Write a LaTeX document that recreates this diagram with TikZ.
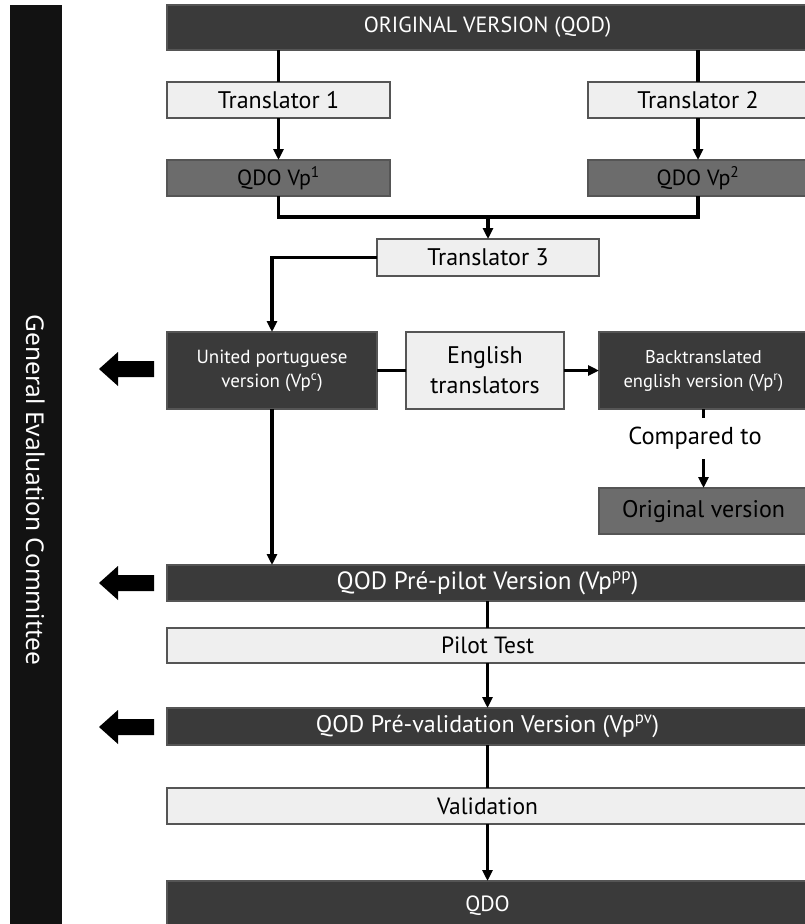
\documentclass[tikz,border=0pt]{standalone}
\usepackage{fontspec}
\setmainfont{PT Sans}
\newfontfamily\sidefont{Noto Sans}
\usetikzlibrary{arrows.meta,calc}
\definecolor{dk}{HTML}{3A3A3A}
\definecolor{md}{HTML}{6C6C6C}
\definecolor{lt}{HTML}{EFEFEF}
\definecolor{bd}{HTML}{555555}
\begin{document}
\begin{tikzpicture}[x=1pt,y=-1pt,
  bx/.style={draw=bd,line width=1.2pt,inner sep=0pt,outer sep=0pt,align=center,font=\fontsize{24}{28}\selectfont},
  dark/.style={bx,fill=dk,text=white},
  mid/.style={bx,fill=md,text=black},
  light/.style={bx,fill=lt,text=black},
  con/.style={line width=3.2pt,black},
  arr/.style={con,-{Triangle[length=11pt,width=10pt]}},
  fat/.style={fill=black}]
\useasboundingbox (0,0) rectangle (804,924);
% helper: box from (x1,y1) to (x2,y2)
\newcommand\mkbox[7]{\node[#1,minimum width=#5-#3,minimum height=#6-#4] (#2) at ({(#3+#5)/2},{(#4+#6)/2}) {#7};}
% side bar
\fill[black!93] (10,5) rectangle (62,930);
\node[text=white,rotate=-90,font=\sidefont\fontsize{24.5}{28}\selectfont] (gec) at (36,490) {General Evaluation Committee};
% boxes
\mkbox{dark,font=\fontsize{22}{26}\selectfont}{orig}{167}{5}{808}{50}{ORIGINAL VERSION (QOD)}
\mkbox{light}{t1}{167}{82}{390}{118}{Translator 1}
\mkbox{light}{t2}{588}{82}{808}{118}{Translator 2}
\mkbox{mid,font=\fontsize{22}{26}\selectfont}{v1}{167}{160}{390}{196}{QDO Vp\textsuperscript{1}}
\mkbox{mid,font=\fontsize{22}{26}\selectfont}{v2}{588}{160}{808}{196}{QDO Vp\textsuperscript{2}}
\mkbox{light}{t3}{377}{239}{599}{276}{Translator 3}
\mkbox{dark,font=\fontsize{19}{24}\selectfont}{up}{167}{332}{377}{409}{United portuguese\\version (Vp\textsuperscript{c})}
\mkbox{light,font=\fontsize{24}{30}\selectfont}{en}{406}{332}{564}{409}{English\\translators}
\mkbox{dark,font=\fontsize{18.5}{24}\selectfont}{bt}{599}{332}{808}{409}{Backtranslated\\english version (Vp\textsuperscript{r})}
\mkbox{mid}{ov}{599}{488}{808}{534}{Original version}
\mkbox{dark,font=\fontsize{25}{28}\selectfont}{pp}{167}{565}{808}{601}{QOD Pré-pilot Version (Vp\textsuperscript{pp})}
\mkbox{light,font=\fontsize{23.5}{28}\selectfont}{pt}{167}{628}{808}{663}{Pilot Test}
\mkbox{dark}{pv}{167}{708}{808}{745}{QOD Pré-validation Version (Vp\textsuperscript{pv})}
\mkbox{light,font=\fontsize{23.5}{28}\selectfont}{val}{167}{788}{808}{824}{Validation}
\mkbox{dark,font=\fontsize{22}{26}\selectfont}{qdo}{167}{881}{808}{930}{QDO}
\node[inner sep=0pt,minimum height=41pt,font=\fontsize{24.5}{28}\selectfont] (cmp) at (695,438.5) {Compared to};
% connectors
\draw[con] (t1.north |- orig.south) -- (t1.north);
\draw[con] (t2.north |- orig.south) -- (t2.north);
\draw[arr] (t1.south) -- (v1.north);
\draw[arr] (t2.south) -- (v2.north);
\coordinate (m) at (t3.north |- 0,217);
\draw[con] (v1.south) |- (m) -| (v2.south);
\draw[arr] (m) -- (t3.north);
\draw[arr] (t3.west) -| (up.north);
\draw[con] (up.east) -- (en.west);
\draw[arr] (en.east) -- (bt.west);
\draw[con] (bt.south) -- (bt.south |- cmp.north);
\draw[arr] (ov.north |- cmp.south) -- (ov.north);
\draw[arr] (up.south) -- (up.south |- pp.north);
\draw[con] (pp.south) -- (pt.north);
\draw[arr] (pt.south) -- (pv.north);
\draw[con] (pv.south) -- (val.north);
\draw[arr] (val.south) -- (qdo.north);
% fat left arrows
\foreach \yy in {369,583,727}{
  \fill[fat] (99,\yy) -- (118,\yy-17) -- (118,\yy-8) -- (154,\yy-8) -- (154,\yy+8) -- (118,\yy+8) -- (118,\yy+17) -- cycle;
}
\end{tikzpicture}
\end{document}
